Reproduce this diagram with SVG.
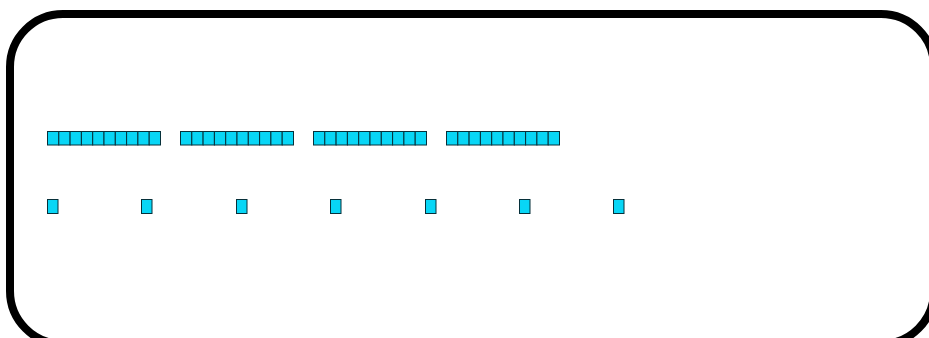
<svg xmlns="http://www.w3.org/2000/svg" xmlns:xlink="http://www.w3.org/1999/xlink" width="929" height="338" viewBox="0 0 929 338">
<style>
.frame{fill:none;stroke:#000;stroke-width:8}
.cell{fill:#08d6f6;stroke:#06303a;stroke-width:1}
</style>
<defs>
<g id="bar">
<rect class="cell" x="0" y="0" width="11.3" height="13.5"/>
<rect class="cell" x="11.3" y="0" width="11.3" height="13.5"/>
<rect class="cell" x="22.6" y="0" width="11.3" height="13.5"/>
<rect class="cell" x="33.9" y="0" width="11.3" height="13.5"/>
<rect class="cell" x="45.2" y="0" width="11.3" height="13.5"/>
<rect class="cell" x="56.5" y="0" width="11.3" height="13.5"/>
<rect class="cell" x="67.8" y="0" width="11.3" height="13.5"/>
<rect class="cell" x="79.1" y="0" width="11.3" height="13.5"/>
<rect class="cell" x="90.4" y="0" width="11.3" height="13.5"/>
<rect class="cell" x="101.7" y="0" width="11.3" height="13.5"/>
</g>
<rect id="sq" class="cell" x="0" y="0" width="10.5" height="14"/>
</defs>
<rect class="frame" x="10" y="14" width="924" height="330" rx="53" ry="53"/>
<g id="bar1"><use xlink:href="#bar" href="#bar" x="47.5" y="131.5"/></g>
<g id="bar2"><use xlink:href="#bar" href="#bar" x="180.5" y="131.5"/></g>
<g id="bar3"><use xlink:href="#bar" href="#bar" x="313.5" y="131.5"/></g>
<g id="bar4"><use xlink:href="#bar" href="#bar" x="446.5" y="131.5"/></g>
<g id="sq1"><use xlink:href="#sq" href="#sq" x="47.5" y="199.5"/></g>
<g id="sq2"><use xlink:href="#sq" href="#sq" x="141.5" y="199.5"/></g>
<g id="sq3"><use xlink:href="#sq" href="#sq" x="236.5" y="199.5"/></g>
<g id="sq4"><use xlink:href="#sq" href="#sq" x="330.5" y="199.5"/></g>
<g id="sq5"><use xlink:href="#sq" href="#sq" x="425.5" y="199.5"/></g>
<g id="sq6"><use xlink:href="#sq" href="#sq" x="519.5" y="199.5"/></g>
<g id="sq7"><use xlink:href="#sq" href="#sq" x="613.5" y="199.5"/></g>
<g id="connectors"/>
</svg>
